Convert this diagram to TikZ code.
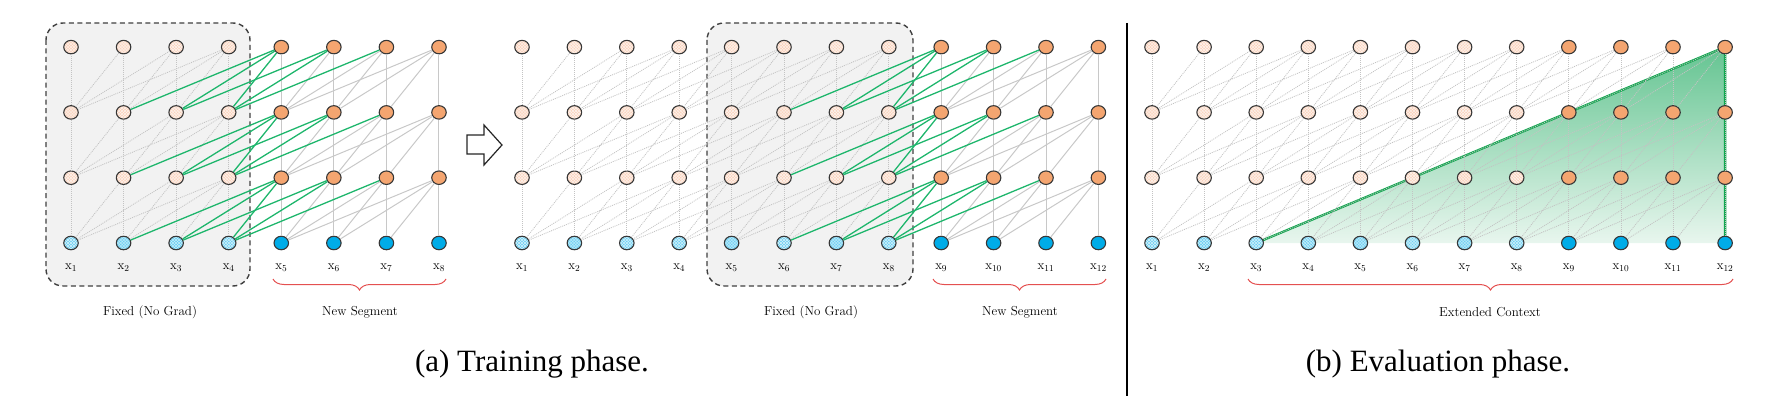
\documentclass[tikz,border=0pt]{standalone}
\usepackage{fontspec}
\newfontfamily\capfont{Liberation Serif}
\usetikzlibrary{shapes.geometric,decorations.pathreplacing}
\definecolor{peach}{RGB}{250,212,190}
\definecolor{orangeN}{RGB}{244,165,112}
\definecolor{lcyan}{RGB}{110,208,242}
\definecolor{cyanN}{RGB}{0,172,232}
\definecolor{bord}{RGB}{55,55,55}
\definecolor{gline}{RGB}{200,200,200}
\definecolor{dline}{RGB}{195,195,195}
\definecolor{grn}{RGB}{30,182,108}
\definecolor{trigrn}{RGB}{18,168,80}
\definecolor{boxfill}{RGB}{242,242,242}
\definecolor{bracered}{RGB}{228,80,80}
\definecolor{gtop}{RGB}{100,196,145}
\definecolor{gbot}{RGB}{232,246,238}
\tikzset{
  unit/.style={ellipse, minimum width=14.5pt, minimum height=13.5pt, inner sep=0pt, draw=bord, line width=1.1pt},
  mesh/.style={path picture={%
    \foreach \o in {-6,-3,0,3,6}{%
      \draw[#1, line width=0.45pt] ([shift={(\o pt-8pt,-8pt)}]path picture bounding box.center) -- ([shift={(\o pt+8pt,8pt)}]path picture bounding box.center);
      \draw[#1, line width=0.45pt] ([shift={(\o pt-8pt,8pt)}]path picture bounding box.center) -- ([shift={(\o pt+8pt,-8pt)}]path picture bounding box.center);
    }}},
  oldh/.style={unit, fill=peach, mesh=white!75!peach},
  newh/.style={unit, fill=orangeN},
  oldx/.style={unit, fill=lcyan, mesh=white!70!lcyan},
  newx/.style={unit, fill=cyanN},
  nodesty/.code n args={3}{%
    \ifnum#1=0
      \ifnum#2>#3 \pgfkeysalso{/tikz/newx}\else\pgfkeysalso{/tikz/oldx}\fi
    \else
      \ifnum#2>#3 \pgfkeysalso{/tikz/newh}\else\pgfkeysalso{/tikz/oldh}\fi
    \fi},
  lab/.style={font=\fontsize{13}{15}\selectfont, inner sep=0pt},
  small/.style={font=\fontsize{13}{15}\selectfont, inner sep=0pt},
  solidl/.style={draw=gline, line width=1pt},
  greenl/.style={draw=grn, line width=1.3pt},
  dotl/.style={draw=dline, line width=0.8pt, dash pattern=on 1pt off 1pt},
  fixbox/.style={draw=black!75, fill=boxfill, line width=1.4pt, dash pattern=on 5pt off 3.5pt, rounded corners=17pt},
  bracel/.style={draw=bracered, line width=1pt, decorate, decoration={brace, mirror, amplitude=11pt}},
  tri/.style={draw=trigrn, line width=2.3pt},
  caption/.style={font=\capfont\fontsize{31}{36}\selectfont, inner sep=0pt},
}
% nodes: #1 prefix, #2 N, #3 old nodes, #4 x0, #5 dx, #6 y0, #7 dy
\newcommand\mynodes[7]{%
  \foreach \j in {1,...,#2}{%
    \foreach \r in {0,...,3}{%
      \node[nodesty={\r}{\j}{#3}] (#1-\r-\j) at ({#4+(\j-1)*#5},{#6-\r*#7}) {};
    }
    \node[lab] (#1-l-\j) at ({#4+(\j-1)*#5},268) {x\textsubscript{\j}};
  }}
% edges: #1 prefix, #2 N, #3 old edges, #4 which pass (1 gray, 2 green)
\newcommand\myedges[4]{%
  \foreach \r in {1,2,3}{%
    \foreach \j in {1,...,#2}{%
      \pgfmathtruncatemacro\rr{\r-1}%
      \pgfmathtruncatemacro\kmin{max(1,\j-3)}%
      \foreach \k in {\kmin,...,\j}{%
        \ifnum\j>#3
          \ifnum\k>#3
            \ifnum#4=1 \draw[solidl] (#1-\r-\j) -- (#1-\rr-\k);\fi
          \else
            \ifnum#4=2 \draw[greenl] (#1-\r-\j) -- (#1-\rr-\k);\fi
          \fi
        \else
          \ifnum#4=1 \draw[dotl] (#1-\r-\j) -- (#1-\rr-\k);\fi
        \fi
      }
    }
  }}
\begin{document}
\begin{tikzpicture}[x=1pt,y=-1pt]
\useasboundingbox (0,0) rectangle (1772,396);
% fixed boxes
\draw[fixbox] (46,23) rectangle (250,286);
\draw[fixbox] (707,23) rectangle (913,286);
% receptive field triangle (under everything)
\coordinate (t1) at ({1152+2*52.1},243);
\coordinate (t2) at ({1152+11*52.1},47);
\coordinate (t3) at ({1152+11*52.1},243);
\shade[top color=gtop, bottom color=gbot] (t1) -- (t2) -- (t3) -- cycle;
\draw[tri] (t1) -- (t2) -- (t3);
% panels
\mynodes{A}{8}{4}{71}{52.57}{243}{65.3}
\mynodes{C}{12}{8}{522}{52.4}{243}{65.3}
\mynodes{B}{12}{8}{1152}{52.1}{243}{65.3}
\myedges{A}{8}{4}{1}
\myedges{C}{12}{8}{1}
\myedges{B}{12}{12}{1}
\myedges{A}{8}{4}{2}
\myedges{C}{12}{8}{2}
% arrow between training panels
\draw[line width=1.2pt, draw=black!85, fill=white, line join=miter]
  (467,135) -- (484,135) -- (484,125) -- (502,145) -- (484,165) -- (484,154) -- (467,154) -- cycle;
% braces
\coordinate (b1s) at (273,279); \coordinate (b1e) at (446,279);
\coordinate (b2s) at (933,279); \coordinate (b2e) at (1106,279);
\coordinate (b3s) at (1248,279); \coordinate (b3e) at (1733,279);
\draw[bracel] (b1s) -- (b1e);
\draw[bracel] (b2s) -- (b2e);
\draw[bracel] (b3s) -- (b3e);
% texts
\node[small] (fix1) at (150,312) {Fixed (No Grad)};
\node[small] (new1) at (360,312) {New Segment};
\node[small] (fix2) at (811,312) {Fixed (No Grad)};
\node[small] (new2) at (1020,312) {New Segment};
\node[small] (ext) at (1490,312) {Extended Context};
% separator
\coordinate (sepT) at (1127,23); \coordinate (sepB) at (1127,396);
\draw[line width=1.2pt] (sepT) -- (sepB);
% captions
\node[caption] (capA) at (532,364) {(a) Training phase.};
\node[caption] (capB) at (1438,364) {(b) Evaluation phase.};
\end{tikzpicture}
\end{document}
